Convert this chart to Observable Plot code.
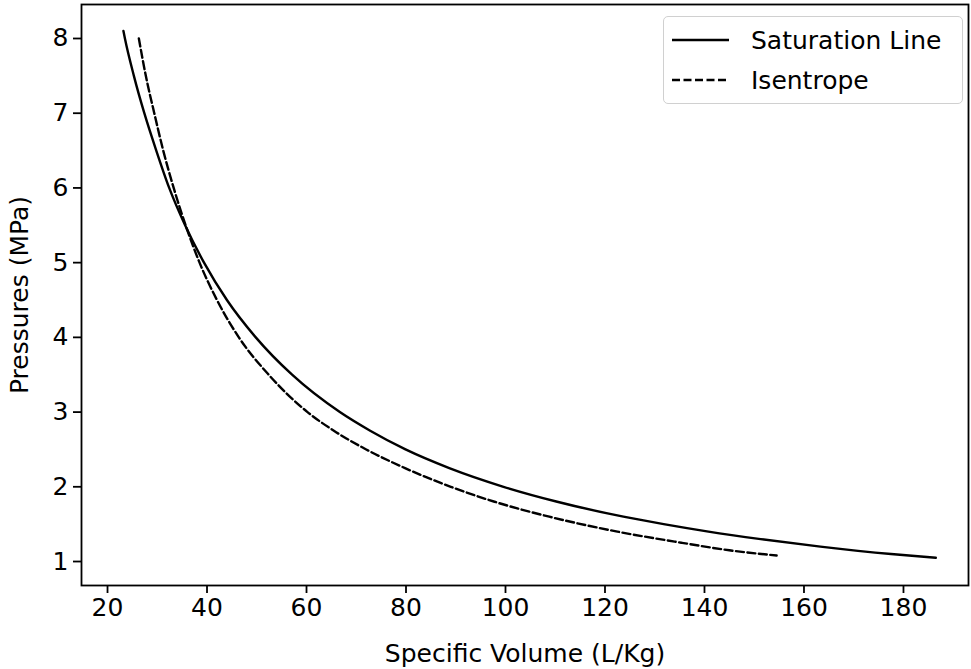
<!DOCTYPE html>
<html>
<head>
<meta charset="utf-8">
<script src="https://cdn.jsdelivr.net/npm/d3@7"></script>
<script src="https://cdn.jsdelivr.net/npm/@observablehq/plot@0.6"></script>
<style>
  html, body { margin: 0; padding: 0; background: #fff; }
  #wrap { position: relative; width: 971px; height: 669px; font-family: "DejaVu Sans", sans-serif; }
  #wrap g[aria-label="x-axis tick label"], #wrap g[aria-label="y-axis tick label"] { font-size: 25px; }
  #legend { position: absolute; left: 663px; top: 16px; width: 300px; height: 88px;
    border: 1.5px solid #d0d0d0; border-radius: 5px; background: rgba(255,255,255,0.8); box-sizing: border-box; }
  .row { position: absolute; left: 8px; height: 34px; display: flex; align-items: center; font-size: 25px; color: #000; white-space: nowrap; }
  .row svg { margin-right: 22px; }
</style>
</head>
<body>
<div id="wrap"></div>
<script>
// Saturation line: pressure (MPa) and specific volume (L/kg)
const satP = [8.1, 8.0, 7.5, 7.0, 6.5, 6.0, 5.5, 5.0, 4.5, 4.0, 3.5, 3.0, 2.75, 2.5, 2.25, 2.0, 1.8, 1.6, 1.5, 1.4, 1.3, 1.2, 1.1, 1.05];
const satV = [23.2, 23.5, 25.3, 27.4, 29.8, 32.4, 35.6, 39.4, 44.0, 49.8, 57.1, 66.7, 72.8, 79.9, 88.7, 99.6, 110.4, 123.7, 131.8, 140.8, 151.3, 163.3, 177.5, 186.5];
// Isentrope
const isoP = [8.0, 7.5, 7.0, 6.5, 6.0, 5.5, 5.0, 4.5, 4.0, 3.5, 3.0, 2.75, 2.5, 2.25, 2.0, 1.8, 1.6, 1.4, 1.25, 1.15, 1.08];
const isoV = [26.3, 27.7, 29.4, 31.2, 33.3, 35.7, 38.5, 42.0, 46.4, 52.4, 60.2, 65.5, 72.0, 79.8, 89.0, 97.8, 108.8, 122.5, 135.5, 145.0, 154.5];
// Ticks and labels
const xTicks = [20, 40, 60, 80, 100, 120, 140, 160, 180];
const yTicks = [1, 2, 3, 4, 5, 6, 7, 8];
const xLabel = "Specific Volume (L/Kg)";
const yLabel = "Pressures (MPa)";
const seriesNames = ["Saturation Line", "Isentrope"];

const sat = satV.map((v, i) => ({v, p: satP[i]}));
const iso = isoV.map((v, i) => ({v, p: isoP[i]}));

const chart = Plot.plot({
  width: 971,
  height: 669,
  marginLeft: 81,
  marginRight: 3,
  marginTop: 4,
  marginBottom: 84,
  style: {fontFamily: "DejaVu Sans, sans-serif", fontSize: "25px", color: "#000", background: "#fff"},
  x: {domain: [14.77, 193.07]},
  y: {domain: [0.679, 8.455]},
  marks: [
    Plot.frame({stroke: "#000", strokeWidth: 1.8}),
    Plot.axisX({ticks: xTicks, tickSize: 8, tickPadding: 5, fontSize: 25, strokeWidth: 1.8, tickFormat: d3.format("d"), label: null}),
    Plot.axisX({ticks: [], fontSize: 25, label: xLabel, labelAnchor: "center", labelArrow: "none", labelOffset: 76}),
    Plot.axisY({ticks: yTicks, tickSize: 8, tickPadding: 5, fontSize: 25, strokeWidth: 1.8, tickFormat: d3.format("d"), label: null}),
    Plot.axisY({ticks: [], fontSize: 25, label: yLabel, labelAnchor: "center", labelArrow: "none", labelOffset: 71}),
    Plot.line(sat, {x: "v", y: "p", stroke: "#000", strokeWidth: 2.4, curve: "monotone-x"}),
    Plot.line(iso, {x: "v", y: "p", stroke: "#000", strokeWidth: 2.4, strokeDasharray: "8,3.5", curve: "monotone-x"})
  ]
});
const wrap = document.getElementById("wrap");
wrap.appendChild(chart);

const legend = document.createElement("div");
legend.id = "legend";
const dashes = ["none", "8,3.5"];
seriesNames.forEach((name, i) => {
  const row = document.createElement("div");
  row.className = "row";
  row.style.top = (i === 0 ? 6 : 46) + "px";
  row.innerHTML = `<svg width="57" height="10"><line x1="0" x2="57" y1="5" y2="5" stroke="#000" stroke-width="2.4" stroke-dasharray="${dashes[i]}"/></svg><span>${name}</span>`;
  legend.appendChild(row);
});
wrap.appendChild(legend);
</script>
</body>
</html>
